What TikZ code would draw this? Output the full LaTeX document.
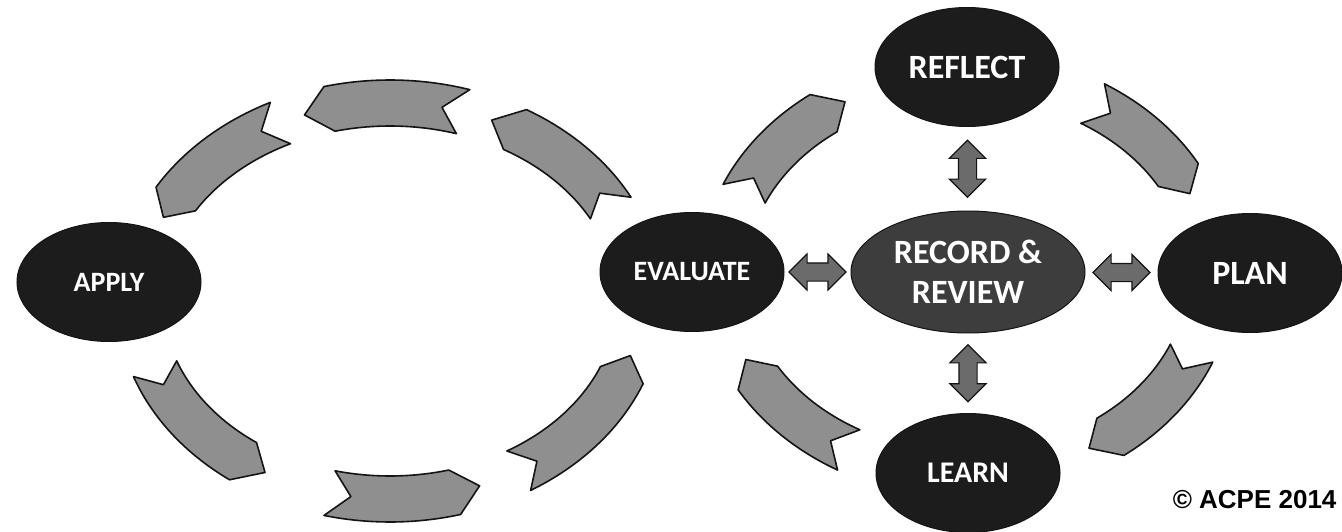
\documentclass[tikz,border=0pt]{standalone}
\usepackage{fontspec}
\setmainfont{Carlito}
\newfontfamily\notefont{Liberation Sans}
\usetikzlibrary{calc, positioning}
\usetikzlibrary{shapes.geometric, shapes.arrows}

\definecolor{stagefill}{gray}{0.11}
\definecolor{hubfill}{gray}{0.24}
\definecolor{chevfill}{gray}{0.56}
\definecolor{linkfill}{gray}{0.42}
\definecolor{rim}{gray}{0.08}

\tikzset{
	stage/.style = {ellipse, draw=rim, fill=stagefill, line width=1pt, text=white,
	                minimum width=184pt, minimum height=119pt, inner sep=0pt,
	                font=\bfseries\fontsize{28}{34}\selectfont},
	big/.style   = {font=\bfseries\fontsize{34}{40}\selectfont},
	hub/.style   = {stage, big, fill=hubfill, minimum width=234pt, minimum height=122pt,
	                align=center},
	link/.style  = {double arrow, draw=rim, fill=linkfill, line width=1.2pt,
	                inner xsep=0pt, inner ysep=8.5pt, minimum height=57pt,
	                double arrow head extend=9pt},
	chev/.style  = {draw=rim, fill=chevfill, line width=1.6pt, line join=round},
}

% curved chevron on the loop (#1,#2) radii #3,#4, from tail angle #5 to head angle #6
\newcommand{\loopchev}[6]{%
	\pgfmathsetmacro\chevsgn{sign((#6)-(#5))}
	\pgfmathsetmacro\chevtip{(#6)+6*\chevsgn}
	\pgfmathsetmacro\chevcut{(#5)+5*\chevsgn}
	\draw[chev] plot[domain=#5:#6, samples=24] ({#1+(#3+23)*cos(\x)}, {#2-(#4+23)*sin(\x)})
	         -- ({#1+#3*cos(\chevtip)}, {#2-#4*sin(\chevtip)})
	         -- plot[domain=#6:#5, samples=24] ({#1+(#3-23)*cos(\x)}, {#2-(#4-23)*sin(\x)})
	         -- ({#1+#3*cos(\chevcut)}, {#2-#4*sin(\chevcut)}) -- cycle;
}

\begin{document}
\begin{tikzpicture}[x=1pt, y=-1pt]
		\useasboundingbox (0,0) rectangle (1342,532);
		\foreach \tailA/\headA in {200/234, 256/285, 301/338, 28/60, 73/104, 116/149}
			{\loopchev{390}{301}{250}{198}{\tailA}{\headA}}
		\foreach \tailA/\headA in {156/126, 59/30, -23/-54, -119/-149}
			{\loopchev{967}{275}{244}{200}{\tailA}{\headA}}
		\node[stage]      (apply)    at ( 109,282) {APPLY};
		\node[stage]      (evaluate) at ( 692,272) {EVALUATE};
		\node[hub]        (record)   at ( 968,272) {RECORD \&\\REVIEW};
		\node[stage, big] (reflect)  at ( 967, 67) {REFLECT};
		\node[stage, big] (plan)     at (1250,273) {PLAN};
		\node[stage, font=\bfseries\fontsize{30}{36}\selectfont]
		                  (learn)    at ( 968,473) {LEARN};
		\node[link]            (evrec)  at ($(evaluate.east)!.5!(record.west)$)  {};
		\node[link]            (recpl)  at ($(record.east)!.5!(plan.west)$)      {};
		\node[link, rotate=90] (refrec) at ($(reflect.south)!.5!(record.north)$) {};
		\node[link, rotate=90] (reclea) at ($(record.south)!.5!(learn.north)$)   {};
		\node[anchor=base east, font=\notefont\bfseries\fontsize{26}{30}\selectfont]
		      (note) at (1340,508) {© ACPE 2014};
	\end{tikzpicture}
\end{document}
